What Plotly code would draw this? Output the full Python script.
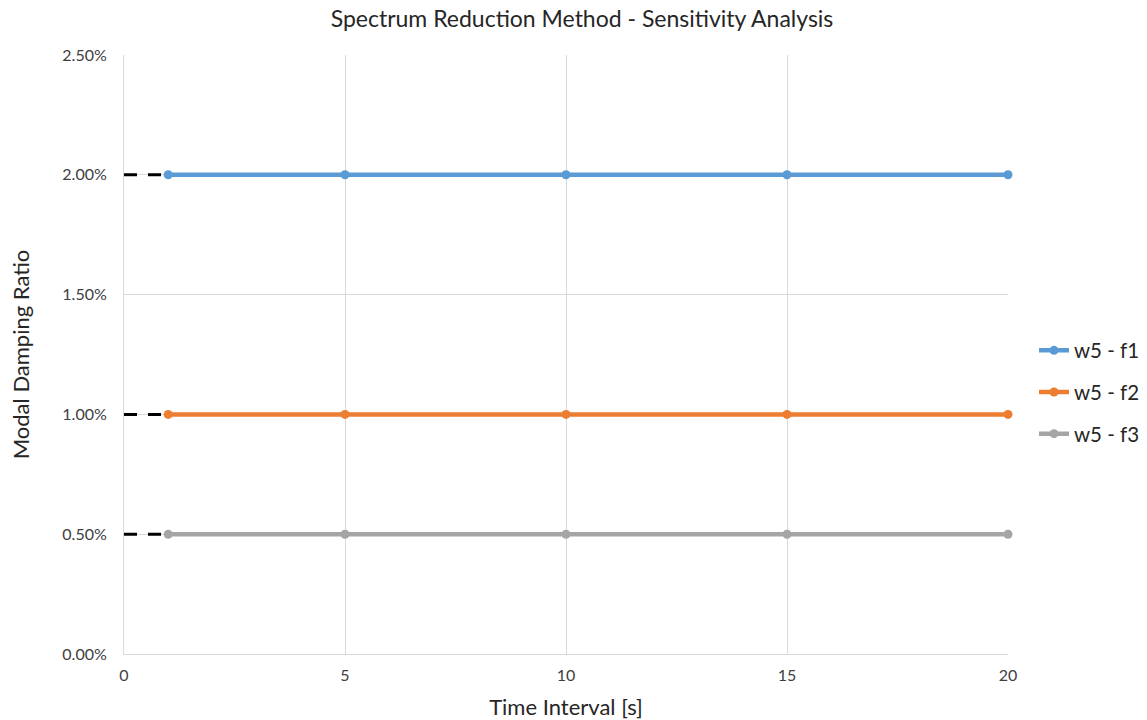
import plotly.graph_objects as go

# Sensitivity results: modal damping ratio vs. time interval
time_interval = [1, 5, 10, 15, 20]
series_names = ["w5 - f1", "w5 - f2", "w5 - f3"]
w5_f1 = [0.02, 0.02, 0.02, 0.02, 0.02]
w5_f2 = [0.01, 0.01, 0.01, 0.01, 0.01]
w5_f3 = [0.005, 0.005, 0.005, 0.005, 0.005]
colors = ["#5B9BD5", "#ED7D31", "#A5A5A5"]

# Reference target levels extended back to t = 0
ref_x = [0, 1]

x_ticks = [0, 5, 10, 15, 20]
y_ticks = [0, 0.005, 0.01, 0.015, 0.02, 0.025]

font_family = "Lato, 'Open Sans', sans-serif"

fig = go.Figure()

for vals in (w5_f1, w5_f2, w5_f3):
    fig.add_trace(go.Scatter(
        x=ref_x, y=[vals[0], vals[0]], mode="lines",
        line=dict(color="black", width=3, dash="13px,11px"),
        showlegend=False, hoverinfo="skip",
    ))

for name, vals, col in zip(series_names, (w5_f1, w5_f2, w5_f3), colors):
    fig.add_trace(go.Scatter(
        x=time_interval, y=vals, name=name, mode="lines+markers",
        legendgroup=name, cliponaxis=False,
        line=dict(color=col, width=4.5),
        marker=dict(color=col, size=9),
    ))

fig.update_layout(
    width=1147, height=720,
    margin=dict(l=124, r=139, t=55, b=66, autoexpand=False),
    paper_bgcolor="white", plot_bgcolor="white",
    font=dict(family=font_family, color="#404040", size=16),
    title=dict(text="Spectrum Reduction Method - Sensitivity Analysis",
               x=582 / 1147, xref="container", xanchor="center",
               y=1 - 19 / 720, yanchor="middle",
               font=dict(size=23, color="#262626")),
    legend=dict(xref="container", yref="container",
                x=1034 / 1147, xanchor="left", y=1 - 392 / 720, yanchor="middle",
                font=dict(size=20.5, color="#262626"),
                itemwidth=30, tracegroupgap=12, bgcolor="rgba(0,0,0,0)"),
    showlegend=True,
)

fig.update_xaxes(
    range=[0, 20], tickvals=x_ticks, ticktext=[str(v) for v in x_ticks],
    showgrid=True, gridcolor="#D9D9D9", gridwidth=1,
    zeroline=False, showline=True, linecolor="#D9D9D9",
    automargin=False,
    ticks="", ticklabelstandoff=7, tickfont=dict(size=16),
    title=dict(text="Time Interval [s]", font=dict(size=22, color="#262626"), standoff=17),
)
fig.update_yaxes(
    range=[0, 0.025], tickvals=y_ticks, tickformat=".2%",
    showgrid=True, gridcolor="#D9D9D9", gridwidth=1,
    zeroline=False, showline=True, linecolor="#D9D9D9", mirror=False,
    automargin=False,
    ticks="", ticklabelstandoff=13, tickfont=dict(size=16),
    title=dict(text="Modal Damping Ratio", font=dict(size=22, color="#262626"), standoff=26),
)

fig.write_html("out.html")
